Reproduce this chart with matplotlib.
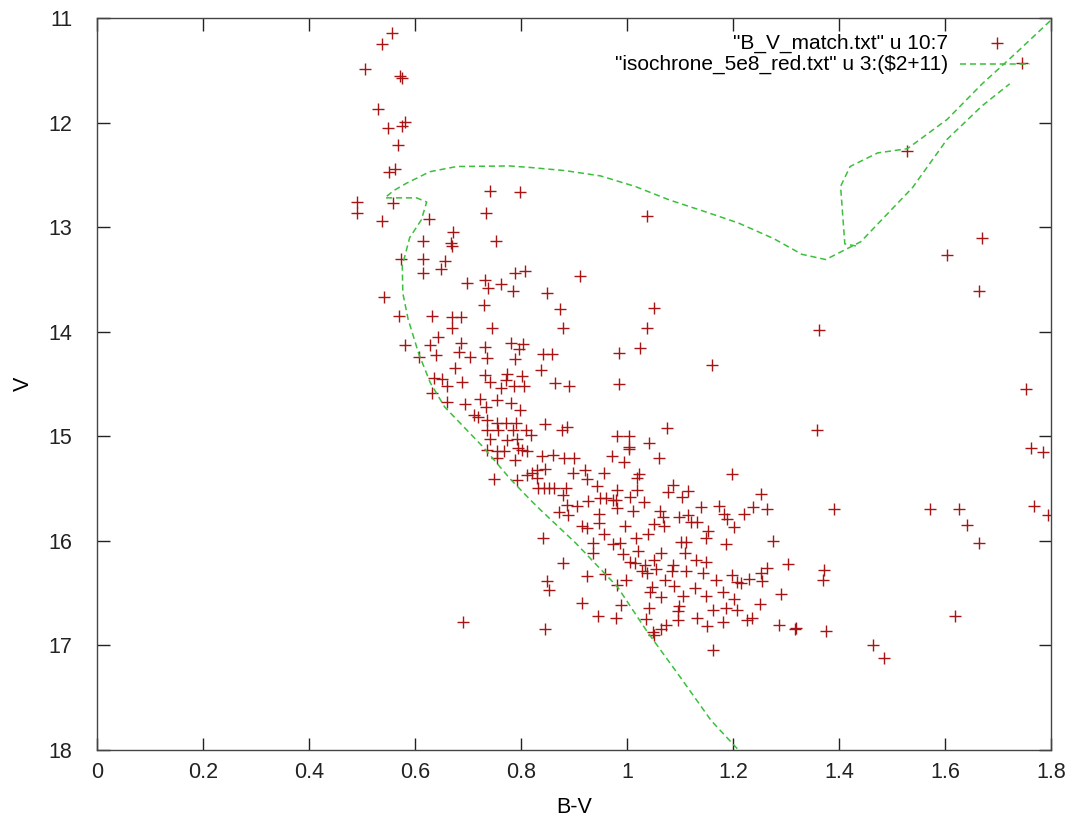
import matplotlib
matplotlib.use("Agg")
import matplotlib.pyplot as plt
import numpy as np

plt.rcParams['font.family'] = ['Liberation Sans', 'DejaVu Sans']

# ---------------- data: B-V colour and V magnitude of matched stars ----------------
bv_top = [0.556, 0.538, 0.505, 0.572, 0.576, 0.530, 0.549, 0.581, 0.575, 0.567,
          0.551, 0.562, 0.491, 0.491, 0.558, 0.537, 0.626, 0.742, 0.734, 0.798, 1.038]
v_top = [11.14, 11.25, 11.49, 11.55, 11.57, 11.87, 12.05, 11.99, 12.03, 12.21,
         12.47, 12.44, 12.76, 12.86, 12.77, 12.94, 12.92, 12.65, 12.86, 12.66, 12.89]

bv_upper = [0.672, 0.615, 0.668, 0.670, 0.752, 0.573, 0.615, 0.657, 0.649, 0.615,
            0.788, 0.808, 0.912, 0.699, 0.732, 0.738, 0.762, 0.784, 0.849, 0.542,
            0.730, 0.874, 0.570, 0.633, 0.669, 0.686, 0.669, 0.745, 0.879, 0.581,
            0.628, 0.644, 0.687, 0.683, 0.640, 0.608, 0.704, 0.732, 0.736, 0.782,
            0.804, 0.797, 0.789, 0.841, 0.858, 0.676, 0.838, 0.635, 0.650, 0.661,
            0.689, 0.733, 0.741, 0.773, 0.772, 0.801, 0.787, 0.806, 0.864, 0.890,
            0.762, 1.051, 1.037, 1.025, 0.985, 1.161, 1.362]
v_upper = [13.05, 13.13, 13.15, 13.18, 13.13, 13.30, 13.30, 13.32, 13.40, 13.44,
           13.44, 13.42, 13.47, 13.53, 13.51, 13.58, 13.54, 13.61, 13.63, 13.67,
           13.74, 13.78, 13.85, 13.85, 13.86, 13.86, 13.96, 13.96, 13.96, 14.13,
           14.13, 14.05, 14.11, 14.19, 14.22, 14.24, 14.24, 14.15, 14.25, 14.11,
           14.12, 14.17, 14.26, 14.21, 14.21, 14.35, 14.37, 14.44, 14.45, 14.52,
           14.48, 14.41, 14.48, 14.40, 14.46, 14.42, 14.52, 14.52, 14.49, 14.52,
           14.54, 13.77, 13.96, 14.16, 14.20, 14.32, 13.98]

bv_mid = [0.633, 0.661, 0.694, 0.723, 0.734, 0.755, 0.782, 0.798, 0.711, 0.718,
          0.736, 0.735, 0.754, 0.772, 0.791, 0.757, 0.785, 0.809, 0.818, 0.845,
          0.877, 0.886, 0.742, 0.773, 0.792, 0.736, 0.755, 0.768, 0.795, 0.801,
          0.812, 0.755, 0.789, 0.840, 0.860, 0.881, 0.900, 0.811, 0.820, 0.830,
          0.845, 0.831, 0.749, 0.793, 0.898, 0.921, 0.925, 0.957, 0.833, 0.843,
          0.853, 0.862, 0.885, 0.943, 0.879, 0.949, 0.960, 0.886, 0.905, 0.927,
          0.872, 0.889, 0.916, 0.924, 0.948, 0.948, 0.841, 0.935, 0.957]
v_mid = [14.59, 14.67, 14.69, 14.64, 14.72, 14.65, 14.68, 14.75, 14.80, 14.82,
         14.84, 14.94, 14.87, 14.87, 14.87, 14.94, 14.94, 14.94, 14.99, 14.88,
         14.94, 14.91, 15.03, 15.04, 15.03, 15.13, 15.14, 15.14, 15.11, 15.13,
         15.14, 15.21, 15.23, 15.19, 15.18, 15.21, 15.21, 15.37, 15.35, 15.32,
         15.31, 15.40, 15.41, 15.42, 15.35, 15.32, 15.41, 15.35, 15.49, 15.49,
         15.49, 15.49, 15.49, 15.48, 15.56, 15.59, 15.59, 15.66, 15.67, 15.62,
         15.72, 15.75, 15.86, 15.88, 15.83, 15.74, 15.97, 16.02, 15.93]

bv_red = [0.984, 1.075, 0.982, 1.004, 1.042, 1.003, 1.004, 0.971, 1.061, 0.994,
          1.023, 1.019, 1.198, 1.086, 1.078, 1.116, 1.103, 0.982, 1.019, 1.006,
          0.973, 0.979, 1.032, 0.981, 1.012, 1.062, 1.067, 1.051, 1.070, 1.099,
          1.116, 1.120, 1.132, 1.139, 1.174, 1.183, 1.189, 1.202, 1.220, 1.238,
          1.264, 1.252, 1.358, 0.996, 1.017, 1.040, 1.101, 1.111, 1.153, 1.149,
          1.187, 1.276, 0.974, 0.986]
v_red = [14.50, 14.92, 15.00, 15.00, 15.06, 15.12, 15.10, 15.19, 15.21, 15.25,
         15.36, 15.40, 15.36, 15.47, 15.53, 15.52, 15.58, 15.51, 15.51, 15.58,
         15.61, 15.61, 15.63, 15.69, 15.71, 15.71, 15.77, 15.84, 15.86, 15.77,
         15.75, 15.82, 15.82, 15.68, 15.67, 15.74, 15.79, 15.87, 15.74, 15.68,
         15.70, 15.55, 14.94, 15.86, 15.97, 15.93, 16.01, 16.01, 15.91, 15.97,
         16.03, 16.00, 16.03, 16.02]

bv_faint = [0.935, 0.992, 1.006, 1.021, 1.015, 1.028, 1.038, 1.034, 1.050, 1.064,
            1.055, 1.072, 0.879, 0.849, 0.852, 0.924, 0.959, 0.981, 0.999, 1.047,
            1.043, 1.064, 1.042, 0.915, 0.988, 0.946, 0.979, 1.036, 0.690, 0.845,
            1.051, 1.049, 1.065, 1.074,
            1.109, 1.130, 1.149, 1.086, 1.084, 1.111, 1.143, 1.168, 1.199, 1.208,
            1.216, 1.231, 1.252, 1.265, 1.254, 1.303, 1.372, 1.369, 1.089, 1.128,
            1.181, 1.106, 1.149, 1.202, 1.250, 1.290, 1.099, 1.097, 1.097, 1.163,
            1.187, 1.208, 1.133, 1.150, 1.182, 1.227, 1.235, 1.287, 1.319, 1.317,
            1.376, 1.163, 1.465]
v_faint = [16.12, 16.13, 16.20, 16.10, 16.21, 16.29, 16.31, 16.23, 16.18, 16.12,
           16.27, 16.37, 16.21, 16.38, 16.47, 16.34, 16.32, 16.42, 16.37, 16.44,
           16.49, 16.54, 16.64, 16.59, 16.61, 16.72, 16.74, 16.75, 16.78, 16.84,
           16.90, 16.87, 16.84, 16.80,
           16.12, 16.18, 16.20, 16.23, 16.29, 16.29, 16.31, 16.37, 16.33, 16.39,
           16.40, 16.36, 16.31, 16.26, 16.38, 16.22, 16.28, 16.37, 16.43, 16.45,
           16.49, 16.53, 16.53, 16.56, 16.60, 16.51, 16.62, 16.67, 16.76, 16.66,
           16.64, 16.66, 16.74, 16.81, 16.78, 16.76, 16.74, 16.80, 16.83, 16.84,
           16.86, 17.04, 17.00]

bv_outer = [1.745, 1.529, 1.670, 1.604, 1.665, 1.753, 1.763, 1.784, 1.768, 1.795,
            1.572, 1.626, 1.641, 1.664, 1.390, 1.618, 1.485]
v_outer = [11.43, 12.27, 13.10, 13.27, 13.61, 14.55, 15.11, 15.15, 15.67, 15.75,
           15.70, 15.70, 15.85, 16.02, 15.70, 16.72, 17.12]

# ---------------- isochrone (5e8 yr), V shifted by +11 ----------------
iso_bv = [1.235, 1.214, 1.159, 1.100, 1.037, 0.982, 0.903, 0.836, 0.818, 0.780,
          0.728, 0.656, 0.629, 0.607, 0.587, 0.577, 0.576, 0.590, 0.612, 0.622,
          0.603, 0.543, 0.560, 0.584, 0.628, 0.679, 0.779, 0.819, 0.884, 0.950,
          1.015, 1.080, 1.146, 1.210, 1.277, 1.330, 1.375, 1.441, 1.539, 1.604,
          1.670, 1.722]
iso_v = [18.12, 18.02, 17.72, 17.30, 16.86, 16.44, 16.02, 15.70, 15.61, 15.41,
         15.10, 14.72, 14.49, 14.21, 13.88, 13.63, 13.37, 13.10, 12.93, 12.76,
         12.72, 12.72, 12.65, 12.58, 12.47, 12.42, 12.415, 12.43, 12.46, 12.51,
         12.61, 12.74, 12.85, 12.96, 13.11, 13.26, 13.31, 13.14, 12.62, 12.16,
         11.84, 11.63]
loop_bv = [1.432, 1.411, 1.403, 1.421, 1.473, 1.529, 1.604, 1.670, 1.735, 1.800, 1.850]
loop_v = [13.18, 13.16, 12.61, 12.42, 12.29, 12.25, 11.97, 11.63, 11.33, 11.02, 10.78]

xtick_vals = [0, 0.2, 0.4, 0.6, 0.8, 1.0, 1.2, 1.4, 1.6, 1.8]
xtick_text = ["0", "0.2", "0.4", "0.6", "0.8", "1", "1.2", "1.4", "1.6", "1.8"]
ytick_vals = [11, 12, 13, 14, 15, 16, 17, 18]

label_points = '"B_V_match.txt" u 10:7'
label_iso = '"isochrone_5e8_red.txt" u 3:($2+11)'

# ---------------- drawing ----------------
W, H = 1076, 825
fig = plt.figure(figsize=(W / 100, H / 100), dpi=100)
ax = fig.add_axes([97 / W, 1 - 750 / H, 954 / W, 732 / H])

bv = np.concatenate([bv_top, bv_upper, bv_mid, bv_red, bv_faint, bv_outer])
vmag = np.concatenate([v_top, v_upper, v_mid, v_red, v_faint, v_outer])

pt_color = '#a81414'
iso_color = '#3cbf3c'
ax.plot(bv, vmag, linestyle='none', marker='+', ms=9, mew=1.0, color=pt_color)
ax.plot(iso_bv, iso_v, color=iso_color, lw=1.1, dashes=(4, 2.5))
ax.plot(loop_bv, loop_v, color=iso_color, lw=1.1, dashes=(4, 2.5))

ax.set_xlim(0, 1.8)
ax.set_ylim(18, 11)
ax.set_xticks(xtick_vals)
ax.set_xticklabels(xtick_text)
ax.set_yticks(ytick_vals)
ax.set_yticklabels([str(t) for t in ytick_vals])
ax.tick_params(direction='in', top=True, right=True, length=9, width=1.0,
               labelsize=15.5, colors='#222222')
ax.tick_params(axis='x', pad=9)
ax.tick_params(axis='y', pad=18)
for s in ax.spines.values():
    s.set_color('#444444')
    s.set_linewidth(1.0)

ax.set_xlabel('B-V', fontsize=15.5, labelpad=10)
ax.set_ylabel('V', fontsize=15.5)
ax.yaxis.set_label_coords(-0.066, 0.5)

# gnuplot-style key (text right-aligned, sample to the right)
ax.text(0.892, 0.966, label_points, transform=ax.transAxes, ha='right', va='center', fontsize=15)
ax.text(0.892, 0.937, label_iso, transform=ax.transAxes, ha='right', va='center', fontsize=15)
ax.plot([0.943], [0.966], transform=ax.transAxes, linestyle='none', marker='+',
        ms=9, mew=1.0, color=pt_color, clip_on=False)
ax.plot([0.905, 0.978], [0.937, 0.937], transform=ax.transAxes, color=iso_color,
        lw=1.1, dashes=(4, 2.5), clip_on=False)

fig.savefig('out.png', dpi=100)
